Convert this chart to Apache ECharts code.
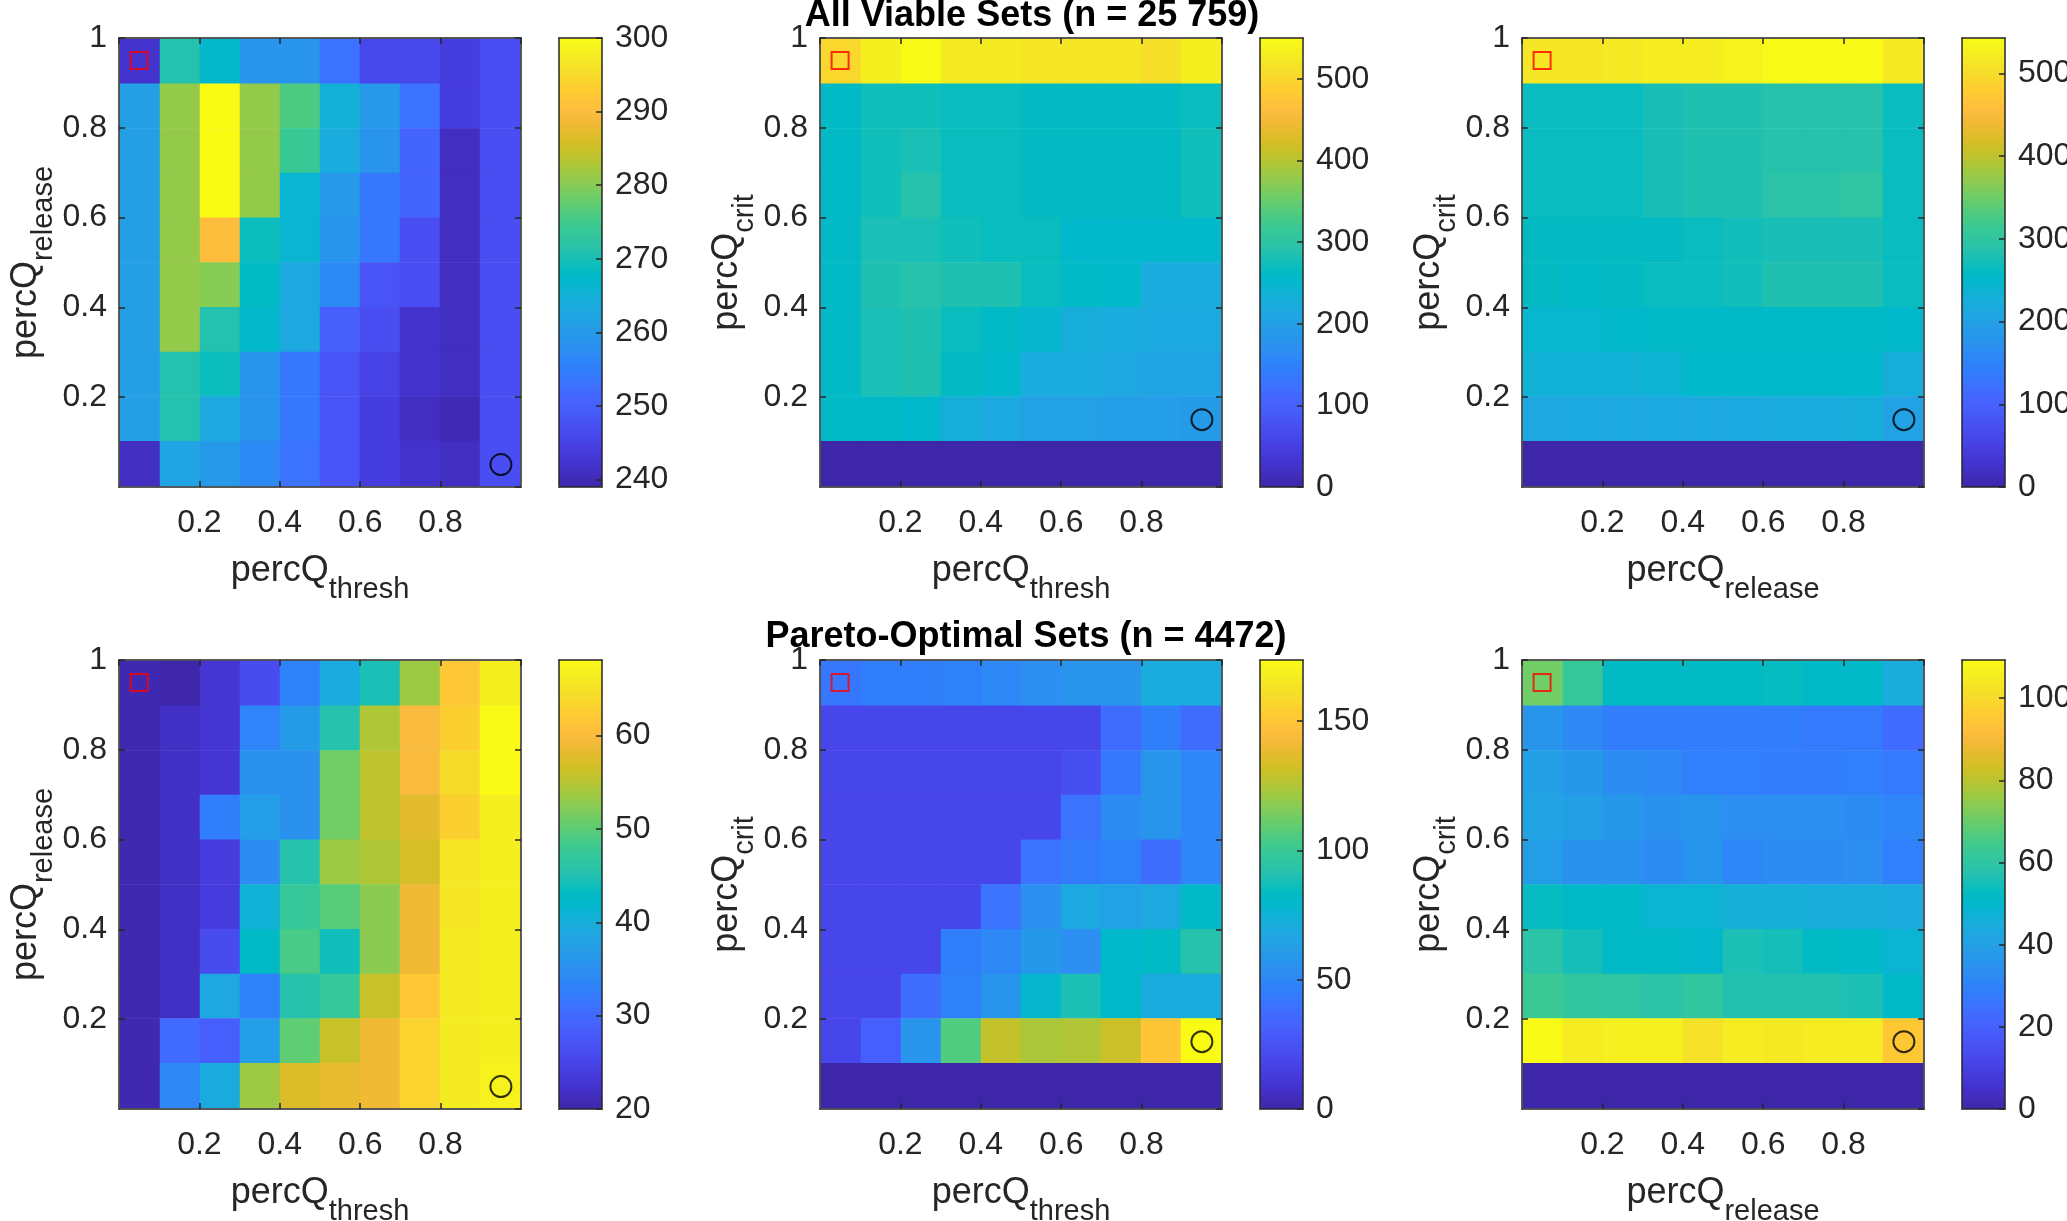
<!DOCTYPE html>
<html><head><meta charset="utf-8">
<script src="https://cdn.jsdelivr.net/npm/echarts@6/dist/echarts.min.js"></script>
<style>html,body{margin:0;padding:0;background:#fff;overflow:hidden}#chart{width:2067px;height:1221px}</style>
</head><body><div id="chart"></div>
<script>
// ---- categories (cell centres) ----
const cellCenters = ['0.05','0.15','0.25','0.35','0.45','0.55','0.65','0.75','0.85','0.95'];

// ---- values: rows from top (y=0.95) to bottom (y=0.05), columns x=0.05..0.95 ----
const allThreshRelease = [
  [242,271,267,259,259,253,246,246,244,247],
  [261,281,300,281,276,265,260,253,244,247],
  [261,281,300,281,274,264,259,251,241,247],
  [261,281,300,281,266,260,254,251,241,247],
  [261,281,290,269,266,259,254,247,241,247],
  [261,281,280,268,263,257,248,247,241,247],
  [261,281,271,267,263,250,247,242,241,247],
  [261,271,269,259,254,248,245,242,241,247],
  [261,271,263,259,254,248,244,241,240,247],
  [241,262,260,257,253,248,244,242,241,247]
];
const allThreshCrit = [
  [499,532,548,526,526,521,521,521,510,532],
  [258,274,274,269,269,263,263,263,263,269],
  [258,274,280,269,269,263,263,263,263,274],
  [258,274,290,269,269,263,263,263,263,274],
  [258,280,280,274,269,269,252,252,252,252],
  [258,285,290,285,285,269,258,252,225,225],
  [258,280,285,269,258,247,230,225,219,219],
  [258,280,285,263,252,225,225,214,208,208],
  [258,258,252,230,219,203,203,197,197,192],
  [0,0,0,0,0,0,0,0,0,0]
];
const allReleaseCrit = [
  [514,514,519,525,525,530,541,541,541,519],
  [265,265,265,276,281,281,287,287,287,265],
  [265,265,265,276,281,281,287,287,287,265],
  [265,265,265,276,281,281,292,292,298,265],
  [260,260,260,260,265,271,276,276,276,265],
  [260,254,260,265,265,271,281,281,281,265],
  [243,243,249,254,254,254,254,254,254,249],
  [233,233,233,238,249,249,249,249,249,227],
  [211,216,216,216,216,216,222,222,227,200],
  [0,0,0,0,0,0,0,0,0,0]
];
const paretoThreshRelease = [
  [20.5,20,22.9,25.8,33,39.2,44.5,53.6,61.8,66.6],
  [20.5,21.9,22.9,33.4,36.8,45.4,54.6,59.8,62.7,68],
  [20.5,21.9,22.9,35.4,35.4,51.2,55.5,59.8,64.2,68],
  [20.5,21.9,32.5,37.3,35.4,51.2,55.5,57.9,62.7,66.6],
  [20.5,21.9,23.8,34.4,45.4,53.6,54.6,57,65.6,66.6],
  [20.5,21.9,23.8,40.6,47.4,49.8,52.6,58.9,65.6,66.6],
  [20.5,21.9,25.8,42.6,48.8,44,52.6,58.9,66.1,66.6],
  [20.5,21.9,38.7,33,45.4,47.4,56,61.8,66.1,66.6],
  [20.5,30.1,28.6,37.3,50.2,56,58.9,63.2,66.1,66.6],
  [20.5,33.9,39.2,53.6,57.4,58.4,58.9,63.2,66.1,67]
];
const paretoThreshCrit = [
  [42,45,45,47,50,54,57,57,71,71],
  [19,19,19,19,19,19,19,37,45,37],
  [19,19,19,19,19,19,23,42,57,49],
  [19,19,19,19,19,19,40,52,57,49],
  [19,19,19,19,19,40,44,47,38,49],
  [19,19,19,19,40,54,68,64,68,82],
  [19,19,19,45,50,59,54,80,82,92],
  [19,19,38,47,57,78,89,80,71,71],
  [19,31,57,106,129,124,125,131,150,174],
  [0,0,0,0,0,0,0,0,0,0]
];
const paretoReleaseCrit = [
  [71,62,52,52,52,52,53,51,51,45],
  [36,32,28,28,28,28,28,27,27,23],
  [40,37,33,32,29,29,28,28,29,27],
  [41,40,37,35,36,34,34,34,33,31],
  [39,35,35,33,36,31,33,33,34,29],
  [53,51,51,48,48,46,46,45,45,44],
  [59,55,51,51,50,56,55,52,51,48],
  [63,61,60,59,61,57,57,57,56,51],
  [109,105,106,106,102,105,104,105,105,95],
  [0,0,0,0,0,0,0,0,0,0]
];

// colour-bar ranges and tick steps
const colorRanges = [[239,300],[0,550],[0,543],[20,68.1],[0,173.6],[0,109.3]];
const colorSteps = [10,100,100,10,50,20];

// markers
const squareMarks = [[0.05,0.95],[0.05,0.95],[0.05,0.95],[0.05,0.95],[0.05,0.95],[0.05,0.95]];
const circleMarks = [[0.95,0.05],[0.95,0.15],[0.95,0.15],[0.95,0.05],[0.95,0.15],[0.95,0.15]];

// axis label subscripts and titles
const xSubs = ['thresh','thresh','release','thresh','thresh','release'];
const ySubs = ['release','crit','crit','release','crit','crit'];
const titles = ['All Viable Sets (n = 25 759)', 'Pareto-Optimal Sets (n = 4472)'];

const panelValues = [allThreshRelease, allThreshCrit, allReleaseCrit, paretoThreshRelease, paretoThreshCrit, paretoReleaseCrit];

// parula colormap
const parula = ['#3e26a8','#402ab4','#422ec0','#4332cb','#4537d5','#463cde','#4741e5','#4747eb','#484df0','#4852f4','#4758f8','#465efb','#4563fd','#4269fe','#3e6fff','#3875fe','#327cfc','#2f81fa','#2e87f7','#2d8cf3','#2b91ef','#2796eb','#259be8','#23a0e5','#20a5e3','#1ca9df','#18addb','#12b1d6','#08b5d0','#01b8ca','#02bac3','#0bbdbd','#19bfb6','#24c1ae','#2cc4a7','#31c69f','#37c897','#3fca8e','#4acb84','#57cc7a','#64cd6f','#72cd64','#81cc59','#8fcb4e','#9dc943','#abc739','#b9c431','#c5c22a','#d1bf27','#dcbd29','#e6bb2d','#f0ba36','#f8ba3d','#febe3c','#fec338','#fec934','#fccf30','#fad62d','#f7dc2a','#f5e327','#f5e924','#f6ef20','#f7f51b','#f9fb15'];

// ---- layout ----
const FONT = 'Liberation Sans';
const INK = '#262626';
const colLefts = [119, 820, 1522];
const rowTops = [38, 660];
const plotW = 402, plotH = 449, cbOffset = 440, cbW = 43;
const heatInset = 1;

function toCells(rows) {
  const out = [];
  rows.forEach((row, r) => row.forEach((v, c) => out.push([c, rows.length - 1 - r, v])));
  return out;
}
function nameRich() {
  return {
    color: INK, fontFamily: FONT,
    rich: {
      a: { fontSize: 36, lineHeight: 40, verticalAlign: 'top', fontFamily: FONT, color: INK },
      b: { fontSize: 29, lineHeight: 33, padding: [22, 0, 0, 0], verticalAlign: 'top', fontFamily: FONT, color: INK }
    }
  };
}
const lineStyle = { color: INK, width: 1.5 };

const grid = [], xAxis = [], yAxis = [], series = [], visualMap = [];
const scatterSeries = [];
for (let p = 0; p < 6; p++) {
  const left = colLefts[p % 3], top = rowTops[Math.floor(p / 3)];
  const g0 = grid.length;
  grid.push({ left: left + heatInset, top: top + heatInset, width: plotW - 2 * heatInset, height: plotH - 2 * heatInset, outerBoundsMode: 'none', containLabel: false });
  grid.push({ left: left, top: top, width: plotW, height: plotH, outerBoundsMode: 'none', containLabel: false });
  grid.push({ left: left + cbOffset, top: top, width: cbW, height: plotH, outerBoundsMode: 'none', containLabel: false });
  const ax0 = xAxis.length;
  // heatmap category axes (hidden)
  xAxis.push({ type: 'category', gridIndex: g0, data: cellCenters, show: false, position: 'bottom' });
  yAxis.push({ type: 'category', gridIndex: g0, data: cellCenters, show: false, position: 'left' });
  // value axes forming the box
  const commonVal = {
    type: 'value', min: 0, max: 1, interval: 0.2, gridIndex: g0 + 1, z: 5,
    splitLine: { show: false },
    axisLine: { show: true, onZero: false, lineStyle: lineStyle },
    axisTick: { show: true, inside: true, length: 6, lineStyle: lineStyle }
  };
  xAxis.push(Object.assign({}, commonVal, {
    position: 'bottom',
    axisLabel: { show: true, showMinLabel: false, showMaxLabel: false, fontSize: 32, fontFamily: FONT, color: INK, margin: 20 },
    name: '{a|percQ}{b|' + xSubs[p] + '}', nameLocation: 'middle', nameGap: 66, nameTextStyle: nameRich()
  }));
  xAxis.push(Object.assign({}, commonVal, { position: 'top', axisLabel: { show: false } }));
  yAxis.push(Object.assign({}, commonVal, {
    position: 'left',
    axisLabel: { show: true, showMinLabel: false, fontSize: 32, fontFamily: FONT, color: INK, margin: 12 },
    name: '{a|percQ}{b|' + ySubs[p] + '}', nameLocation: 'middle', nameRotate: 90, nameGap: 64, nameTextStyle: nameRich()
  }));
  yAxis.push(Object.assign({}, commonVal, { position: 'right', axisLabel: { show: false } }));
  // colour-bar frame and scale
  const cbFrame = {
    type: 'value', min: 0, max: 1, gridIndex: g0 + 2, z: 5,
    splitLine: { show: false }, axisTick: { show: false }, axisLabel: { show: false },
    axisLine: { show: true, onZero: false, lineStyle: lineStyle }
  };
  xAxis.push(Object.assign({}, cbFrame, { position: 'bottom' }));
  xAxis.push(Object.assign({}, cbFrame, { position: 'top' }));
  yAxis.push(Object.assign({}, cbFrame, { position: 'left' }));
  const rng = colorRanges[p], step = colorSteps[p];
  const cbAxis = {
    type: 'value', min: rng[0], max: rng[1], gridIndex: g0 + 2, z: 5, position: 'right',
    splitLine: { show: false },
    axisLine: { show: true, onZero: false, lineStyle: lineStyle },
    axisTick: { show: true, inside: true, length: 6, lineStyle: lineStyle },
    axisLabel: {
      show: true, fontSize: 32, fontFamily: FONT, color: INK, margin: 13,
      showMinLabel: rng[0] % step === 0, showMaxLabel: rng[1] % step === 0
    }
  };
  if (rng[0] % step === 0) cbAxis.interval = step;
  yAxis.push(cbAxis);

  series.push({
    type: 'heatmap', xAxisIndex: ax0, yAxisIndex: ax0,
    data: toCells(panelValues[p]), emphasis: { disabled: true }, z: 2
  });
  scatterSeries.push({
    type: 'scatter', xAxisIndex: ax0 + 1, yAxisIndex: ax0 + 1, z: 6, silent: true,
    data: [squareMarks[p]], symbol: 'rect', symbolSize: 17,
    itemStyle: { color: 'rgba(0,0,0,0)', borderColor: '#ff0000', borderWidth: 2 }
  });
  scatterSeries.push({
    type: 'scatter', xAxisIndex: ax0 + 1, yAxisIndex: ax0 + 1, z: 6, silent: true,
    data: [circleMarks[p]], symbol: 'circle', symbolSize: 21,
    itemStyle: { color: 'rgba(0,0,0,0)', borderColor: '#000000', borderWidth: 2 }
  });
  visualMap.push({
    type: 'continuous', seriesIndex: p, min: rng[0], max: rng[1],
    calculable: false, hoverLink: false, realtime: false,
    orient: 'vertical', left: left + cbOffset, top: top, padding: 0,
    itemWidth: cbW, itemHeight: plotH, text: null, showLabel: false,
    inRange: { color: parula }
  });
}

const chart = echarts.init(document.getElementById('chart'));
chart.setOption({
  backgroundColor: '#ffffff',
  animation: false,
  title: [
    { text: titles[0], left: 1032, top: -2, textAlign: 'center', padding: 0,
      textStyle: { fontSize: 36, fontWeight: 'bold', color: '#000', fontFamily: FONT } },
    { text: titles[1], left: 1026, top: 619, textAlign: 'center', padding: 0,
      textStyle: { fontSize: 36, fontWeight: 'bold', color: '#000', fontFamily: FONT } }
  ],
  grid: grid, xAxis: xAxis, yAxis: yAxis, visualMap: visualMap,
  series: series.concat(scatterSeries)
});
</script>
</body></html>
